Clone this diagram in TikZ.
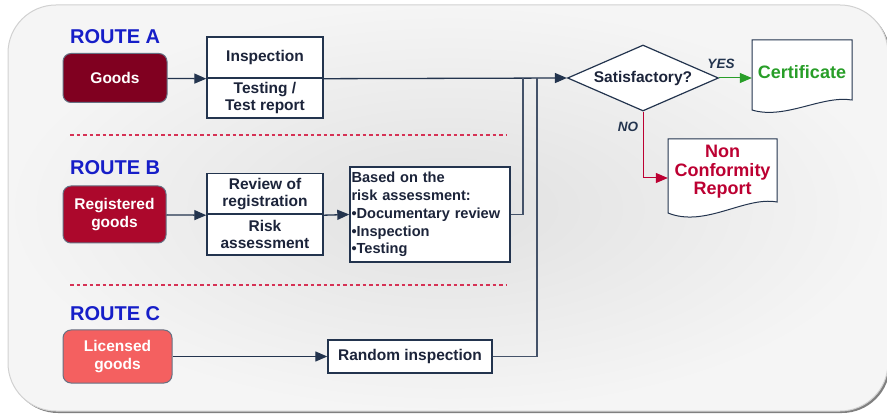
\documentclass[tikz,border=0pt]{standalone}
\usepackage{fontspec}
\setmainfont{Liberation Sans}
\usetikzlibrary{arrows.meta, shapes.geometric}
\tikzset{>={Triangle[length=12pt, width=10pt]}}
\definecolor{navy}{RGB}{35,52,78}
\definecolor{boxText}{RGB}{28,36,58}
\definecolor{routeBlue}{RGB}{22,30,200}
\definecolor{darkRed}{RGB}{128,0,32}
\definecolor{midRed}{RGB}{172,8,44}
\definecolor{lightRed}{RGB}{244,96,96}
\definecolor{certGreen}{RGB}{40,158,40}
\definecolor{ncRed}{RGB}{188,0,50}
\definecolor{dashRed}{RGB}{214,50,85}
\newcommand{\boxFont}{\fontsize{15.5}{17.5}\selectfont\bfseries}
\tikzstyle{route} = [font = \fontsize{20}{24}\selectfont\bfseries, text = routeBlue, anchor = west, inner sep = 0]
\tikzstyle{goods} = [rectangle, rounded corners = 8pt, draw = navy!70, line width = 1pt, text = white, font = \boxFont, align = center]
\tikzstyle{process} = [rectangle, text centered, align = center, draw = navy, fill = white, line width = 1.4pt, text = boxText, font = \boxFont, minimum width = 116pt, inner sep = 0]
\tikzstyle{decision} = [diamond, aspect = 2.3, text centered, draw = navy, fill = white, line width = 1.2pt, minimum width = 151pt, minimum height = 66pt, inner sep = 0, text = boxText, font = \boxFont]
\tikzstyle{docShape} = [rectangle, text centered, align = center, font = \fontsize{18}{18.5}\selectfont\bfseries]
\tikzstyle{docLine} = [draw = navy, fill = white, line width = 1pt]
\tikzstyle{flow} = [->, draw = navy, line width = 1.3pt]
\tikzstyle{joinLine} = [draw = navy!85, line width = 1.5pt]
\tikzstyle{answer} = [font = \fontsize{13.5}{16}\selectfont\bfseries\itshape, text = navy]
\tikzstyle{divider} = [color = dashRed, dash pattern = on 3.5pt off 3pt, line width = 1.1pt]

\begin{document}
\begin{tikzpicture}[x = 1pt, y = -1pt]
    \useasboundingbox (0,0) rectangle (887,414);
    \fill [black!50, rounded corners = 48pt] (10,7) rectangle (890,413);
    \shade [inner color = black!12, outer color = black!4, rounded corners = 48pt] (8,5) rectangle (888,411);
    \draw [black!18, line width = 1pt, rounded corners = 48pt] (8,5) rectangle (888,411);
    \draw [divider] (70,135) -- (507,135);
    \draw [divider] (70,285) -- (507,285);
    \draw [docLine] (752,40) -- (852,40) -- (852,100) .. controls (822,95) and (785,120) .. (752,110) -- cycle;
    \draw [docLine] (668,139) -- (777,139) -- (777,202) .. controls (745,196) and (705,228) .. (668,213) -- cycle;
    \node (routeA) at (70,37) [route] {ROUTE A};
    \node (goodsA) at (115,78) [goods, fill = darkRed, minimum width = 104pt, minimum height = 49pt] {Goods};
    \node (inspTop) at (265,57.5) [process, minimum height = 41pt] {Inspection};
    \node (inspBottom) at (265,98) [process, minimum height = 40pt] {Testing /\\Test report};
    \node (routeB) at (70,168) [route] {ROUTE B};
    \node (goodsB) at (114.5,214.5) [goods, fill = midRed, minimum width = 103pt, minimum height = 57pt] {Registered\\goods};
    \node (reviewTop) at (265,194) [process, minimum height = 41pt] {Review of\\registration};
    \node (reviewBottom) at (265,234.5) [process, minimum height = 41pt] {Risk\\assessment};
    \node (basedBox) at (430,214.5) [process, align = left, text width = 157pt, inner xsep = 1.5pt, minimum height = 95pt, font = \fontsize{14.6}{17.8}\selectfont\bfseries] {Based on the\\risk assessment:\\•Documentary review\\•Inspection\\•Testing};
    \node (routeC) at (70,314) [route] {ROUTE C};
    \node (goodsC) at (117.5,356.5) [goods, fill = lightRed, minimum width = 109pt, minimum height = 53pt] {Licensed\\goods};
    \node (randomBox) at (410,356.5) [process, minimum width = 164pt, minimum height = 33pt] {Random inspection};
    \node (satisfy) at (643,78) [decision] {Satisfactory?};
    \node (certDoc) at (802,72) [docShape, text = certGreen, minimum width = 100pt, minimum height = 64pt] {Certificate};
    \node (ncDoc) at (722.5,172) [docShape, text = ncRed, minimum width = 109pt, minimum height = 66pt] {Non\\Conformity\\Report};
    \node (yesLabel) at (721,64) [answer] {YES};
    \node (noLabel) at (628,127) [answer] {NO};
    \coordinate (joinB) at (523,78);
    \coordinate (joinC) at (537,78);
    \draw [flow] (goodsA) -- (inspTop.south west);
    \draw [flow] (inspTop.south east) -- (satisfy.west);
    \draw [flow] (goodsB) -- (reviewTop.south west);
    \draw [flow] (reviewTop.south east) -- (basedBox.west);
    \draw [flow] (goodsC) -- (randomBox);
    \draw [joinLine] (basedBox.east) -| (joinB);
    \draw [joinLine] (randomBox.east) -| (joinC);
    \draw [flow, draw = certGreen, line width = 1pt] (satisfy.east) -- (satisfy.east -| certDoc.west);
    \draw [flow, draw = ncRed, line width = 1pt] (satisfy.south) |- ([yshift = -6pt]ncDoc.west);
\end{tikzpicture}
\end{document}
